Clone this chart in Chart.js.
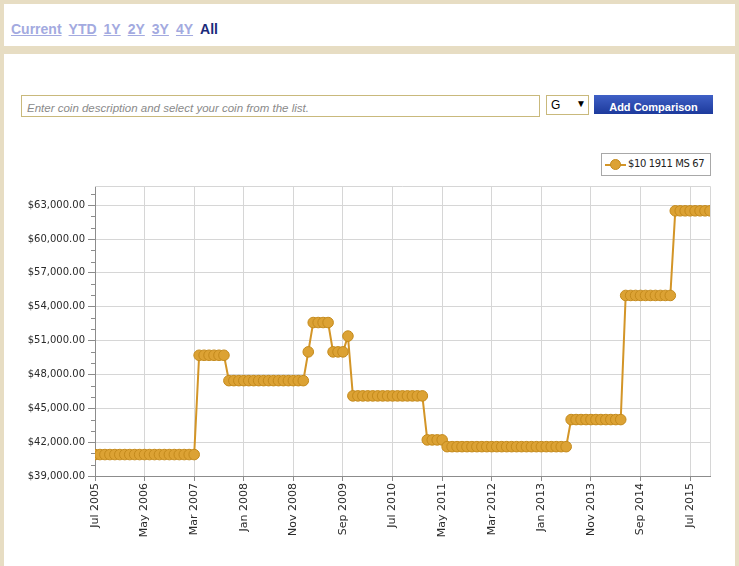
<!DOCTYPE html>
<html lang="en">
<head>
<meta charset="UTF-8">
<title>$10 1911 MS 67</title>
<script src="https://cdn.jsdelivr.net/npm/chart.js"></script>
<style>
  body { margin: 0; width: 739px; height: 566px; overflow: hidden; position: relative; background: #e7ddc3; font-family: "Liberation Sans", Arial, sans-serif; }
  #top { position: absolute; left: 4px; top: 4px; width: 731px; height: 42px; background: #fff; }
  #periods { position: absolute; left: 7px; top: 15px; font-size: 14px; line-height: 20px; font-weight: bold; white-space: nowrap; }
  #periods a { color: #a3aae0; text-decoration: underline; margin-right: 7px; }
  #periods span { color: #1b2a7a; }
  #panel { position: absolute; left: 4px; top: 54px; width: 731px; height: 512px; background: #fff; }
  #coin { position: absolute; left: 21px; top: 95px; width: 517px; height: 20px; border: 1px solid #c9b97c; box-sizing: content-box; }
  #coin span { position: absolute; left: 5px; top: 6px; font-size: 11.5px; font-style: italic; color: #8a8a8a; white-space: nowrap; }
  #grade { position: absolute; left: 546px; top: 95px; width: 41px; height: 18px; border: 1px solid #c9b97c; font-size: 12px; }
  #grade .g { position: absolute; left: 4px; top: 2px; }
  #grade .arr { position: absolute; left: 29px; top: 2px; font-size: 10px; }
  #add { position: absolute; left: 594px; top: 95px; width: 119px; height: 19px; background: linear-gradient(#3f60c6, #1d3a9c); color: #fff; font-size: 11px; font-weight: bold; text-align: center; line-height: 24px; }
  #legend { position: absolute; left: 601px; top: 153px; width: 108px; height: 21px; border: 1px solid #a8a8a8; background: #fff; font-family: "DejaVu Sans", sans-serif; font-size: 10px; letter-spacing: -0.4px; color: #222; }
  #legend .ln { position: absolute; left: 3px; top: 10px; width: 21px; height: 2px; background: #d39527; }
  #legend .dot { position: absolute; left: 8px; top: 5px; width: 11px; height: 11px; border-radius: 50%; background: #dca234; border: 1px solid #c48a1c; box-sizing: border-box; }
  #legend .tx { position: absolute; left: 26px; top: 4px; white-space: nowrap; }
  #myChart { position: absolute; left: 0; top: 140px; }
</style>
</head>
<body>
  <div id="top">
    <div id="periods"><a>Current</a><a>YTD</a><a>1Y</a><a>2Y</a><a>3Y</a><a>4Y</a><span>All</span></div>
  </div>
  <div id="panel"></div>
  <div id="coin"><span>Enter coin description and select your coin from the list.</span></div>
  <div id="grade"><span class="g">G</span><span class="arr">&#9660;</span></div>
  <div id="add">Add Comparison</div>
  <canvas id="myChart" width="739" height="426"></canvas>
  <div id="legend"><div class="ln"></div><div class="dot"></div><span class="tx">$10 1911 MS 67</span></div>
<script>
// monthly prices, Jul 2005 .. Nov 2015
const prices = [
  40900, 40900, 40900, 40900, 40900, 40900, 40900, 40900, 40900, 40900, 40900,
  40900, 40900, 40900, 40900, 40900, 40900, 40900, 40900, 40900, 40900,
  49700, 49700, 49700, 49700, 49700, 49700,
  47450, 47450, 47450, 47450, 47450, 47450, 47450, 47450,
  47450, 47450, 47450, 47450, 47450, 47450, 47450, 47450,
  50000,
  52600, 52600, 52600, 52600,
  50000, 50000, 50000,
  51400,
  46100, 46100, 46100, 46100, 46100, 46100, 46100, 46100,
  46100, 46100, 46100, 46100, 46100, 46100, 46100,
  42200, 42200, 42200, 42200,
  41600, 41600, 41600, 41600, 41600, 41600, 41600, 41600, 41600, 41600, 41600, 41600, 41600,
  41600, 41600, 41600, 41600, 41600, 41600, 41600, 41600, 41600, 41600, 41600, 41600,
  44000, 44000, 44000, 44000, 44000, 44000, 44000, 44000, 44000, 44000, 44000,
  55000, 55000, 55000, 55000, 55000, 55000, 55000, 55000, 55000, 55000,
  62500, 62500, 62500, 62500, 62500, 62500, 62500, 62500
];

const monthNames = ['Jan', 'Feb', 'Mar', 'Apr', 'May', 'Jun', 'Jul', 'Aug', 'Sep', 'Oct', 'Nov', 'Dec'];
const months = [];
for (let i = 0; i < prices.length; i++) {
  months.push(monthNames[(6 + i) % 12] + ' ' + (2005 + Math.floor((6 + i) / 12)));
}

const xTickLabels = ['Jul 2005', 'May 2006', 'Mar 2007', 'Jan 2008', 'Nov 2008', 'Sep 2009', 'Jul 2010',
                     'May 2011', 'Mar 2012', 'Jan 2013', 'Nov 2013', 'Sep 2014', 'Jul 2015'];
const yTickValues = [39000, 42000, 45000, 48000, 51000, 54000, 57000, 60000, 63000];
const yMin = 39000, yMax = 64700, yMinorStep = 1000;

const gridCol = '#d6d6d6';
const axisCol = '#8c8c8c';

// light frame on top/right and short minor ticks on the y axis
const frame = {
  id: 'frame',
  beforeDatasetsDraw(chart) {
    const { ctx, chartArea: a } = chart;
    ctx.save();
    ctx.strokeStyle = gridCol;
    ctx.lineWidth = 1;
    ctx.beginPath();
    ctx.moveTo(a.left, a.top + 0.5);
    ctx.lineTo(Math.round(a.right) + 0.5, a.top + 0.5);
    ctx.lineTo(Math.round(a.right) + 0.5, a.bottom);
    ctx.stroke();
    ctx.restore();
  },
  afterDraw(chart) {
    const ctx = chart.ctx, y = chart.scales.y;
    ctx.save();
    ctx.strokeStyle = axisCol;
    ctx.lineWidth = 1;
    ctx.beginPath();
    y.ticks.forEach(t => {
      if (!yTickValues.includes(t.value) && t.value % yMinorStep === 0) {
        const py = Math.round(y.getPixelForValue(t.value)) + 0.5;
        ctx.moveTo(y.right - 4, py);
        ctx.lineTo(y.right, py);
      }
    });
    ctx.stroke();
    ctx.restore();
  }
};

const ctx = document.getElementById('myChart').getContext('2d');
new Chart(ctx, {
  type: 'line',
  data: {
    labels: months,
    datasets: [{
      label: '$10 1911 MS 67',
      data: prices,
      borderColor: '#d39527',
      borderWidth: 2,
      tension: 0,
      clip: 0,
      pointRadius: 5.3,
      pointBorderWidth: 1,
      pointBackgroundColor: '#dca234',
      pointBorderColor: '#c48a1c'
    }]
  },
  options: {
    responsive: false,
    animation: false,
    devicePixelRatio: 1,
    layout: { padding: { top: 46, right: 29, left: 0, bottom: 0 } },
    plugins: { legend: { display: false }, tooltip: { enabled: false } },
    scales: {
      x: {
        afterFit: s => { s.height = 90; },
        border: { color: axisCol },
        grid: {
          color: c => xTickLabels.includes(months[c.index]) ? gridCol : 'transparent',
          tickColor: c => xTickLabels.includes(months[c.index]) ? axisCol : 'transparent',
          tickLength: 5
        },
        ticks: {
          autoSkip: false,
          maxRotation: 90,
          minRotation: 90,
          padding: 2,
          color: '#2a2a2a',
          font: { family: 'DejaVu Sans', size: 11 },
          callback: (v, i) => xTickLabels.includes(months[i]) ? months[i] : ''
        }
      },
      y: {
        min: yMin,
        max: yMax,
        afterFit: s => { s.width = 95; },
        afterBuildTicks: s => {
          const t = [];
          for (let v = yMin; v <= yMax; v += yMinorStep) t.push({ value: v });
          s.ticks = t;
        },
        border: { color: axisCol },
        grid: {
          color: c => yTickValues.includes(c.tick.value) ? gridCol : 'transparent',
          tickColor: c => yTickValues.includes(c.tick.value) ? axisCol : 'transparent',
          tickLength: 7
        },
        ticks: {
          autoSkip: false,
          padding: 3,
          color: '#2a2a2a',
          font: { family: 'DejaVu Sans', size: 10 },
          callback: v => yTickValues.includes(v)
            ? '$' + v.toLocaleString('en-US', { minimumFractionDigits: 2 }) : ''
        }
      }
    }
  },
  plugins: [frame]
});
</script>
</body>
</html>
